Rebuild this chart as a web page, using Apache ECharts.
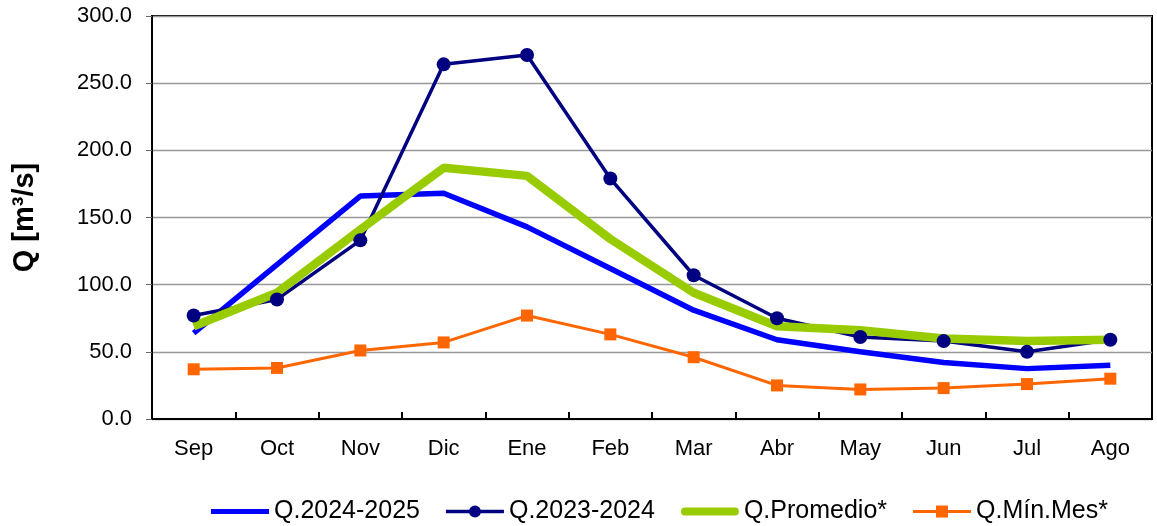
<!DOCTYPE html>
<html>
<head>
<meta charset="utf-8">
<script src="https://cdn.jsdelivr.net/npm/echarts@6/dist/echarts.min.js"></script>
<style>
html,body{margin:0;padding:0;background:#fff;}
#c{width:1157px;height:526px;}
</style>
</head>
<body>
<div id="c"></div>
<script>
var months = ['Sep','Oct','Nov','Dic','Ene','Feb','Mar','Abr','May','Jun','Jul','Ago'];
var q2425 = [64, 115, 166, 168, 143, 112, 81, 59, 50, 42, 37.5, 40];
var q2324 = [77, 89, 133, 264, 271, 179, 107, 75, 61, 58, 50, 59];
var qProm = [69, 94, 141, 187, 181, 134, 94, 69, 66, 60, 58, 59];
var qMin  = [37, 38, 51, 57, 77, 63, 46, 25, 22, 23, 26, 30];
var yTicks = {min: 0, max: 300, interval: 50};

var chart = echarts.init(document.getElementById('c'));
var font = 'Liberation Sans, Arial, sans-serif';
chart.setOption({
  animation: false,
  textStyle: {fontFamily: font, color: '#000'},
  grid: {left: 152, right: 5, top: 16, bottom: 107, show: true, borderColor: '#000', borderWidth: 2, backgroundColor: 'transparent'},
  legend: {
    left: 206, top: 494, itemWidth: 58, itemHeight: 14, itemGap: 26,
    symbolKeepAspect: true,
    textStyle: {fontSize: 25, color: '#000', fontFamily: font},
    data: [
      {name: 'Q.2024-2025', icon: 'path://M0,4.5H58V9.5H0Z', itemStyle: {color: '#0000FF'}},
      {name: 'Q.2023-2024', icon: 'path://M0,5.3H24V8.7H0Z M34,5.3H58V8.7H34Z M23,7A6,6 0 1,1 35,7A6,6 0 1,1 23,7Z', itemStyle: {color: '#000080'}},
      {name: 'Q.Promedio*', icon: 'path://M4,3H54A4,4 0 0,1 54,11H4A4,4 0 0,1 4,3Z M0,0H0.01V14H0Z M58,0H57.99V14H58Z', itemStyle: {color: '#99CC00'}},
      {name: 'Q.Mín.Mes*', icon: 'path://M0,5.5H23V8.5H0Z M35,5.5H58V8.5H35Z M23,1H35V13H23Z', itemStyle: {color: '#FF6600'}}
    ]
  },
  xAxis: {
    type: 'category', data: months, boundaryGap: true,
    axisLine: {lineStyle: {color: '#000', width: 2}},
    axisTick: {show: true, inside: true, length: 7, lineStyle: {color: '#000', width: 2}},
    axisLabel: {fontSize: 22, color: '#000', margin: 19, fontFamily: font},
    splitLine: {show: false}
  },
  yAxis: {
    type: 'value', min: yTicks.min, max: yTicks.max, interval: yTicks.interval,
    name: 'Q [m³/s]', nameLocation: 'middle', nameGap: 113, nameRotate: 90,
    nameTextStyle: {fontSize: 29, fontWeight: 'bold', color: '#000', fontFamily: font},
    axisLine: {show: true, lineStyle: {color: '#000', width: 2}},
    axisTick: {show: true, length: 6, lineStyle: {color: '#666'}},
    axisLabel: {fontSize: 22, color: '#000', margin: 20, fontFamily: font,
      formatter: function(v){return v.toFixed(1);}},
    splitLine: {show: true, lineStyle: {color: '#999', width: 1.3}}
  },
  series: [
    {name: 'Q.2024-2025', type: 'line', data: q2425, symbol: 'none',
     lineStyle: {color: '#0000FF', width: 5.5}, itemStyle: {color: '#0000FF'}},
    {name: 'Q.2023-2024', type: 'line', data: q2324, symbol: 'circle', symbolSize: 14,
     lineStyle: {color: '#000080', width: 3.5}, itemStyle: {color: '#000080'}},
    {name: 'Q.Promedio*', type: 'line', data: qProm, symbol: 'none',
     lineStyle: {color: '#99CC00', width: 8.5}, itemStyle: {color: '#99CC00'}},
    {name: 'Q.Mín.Mes*', type: 'line', data: qMin, symbol: 'rect', symbolSize: 12,
     lineStyle: {color: '#FF6600', width: 3}, itemStyle: {color: '#FF6600'}}
  ]
});
</script>
</body>
</html>
